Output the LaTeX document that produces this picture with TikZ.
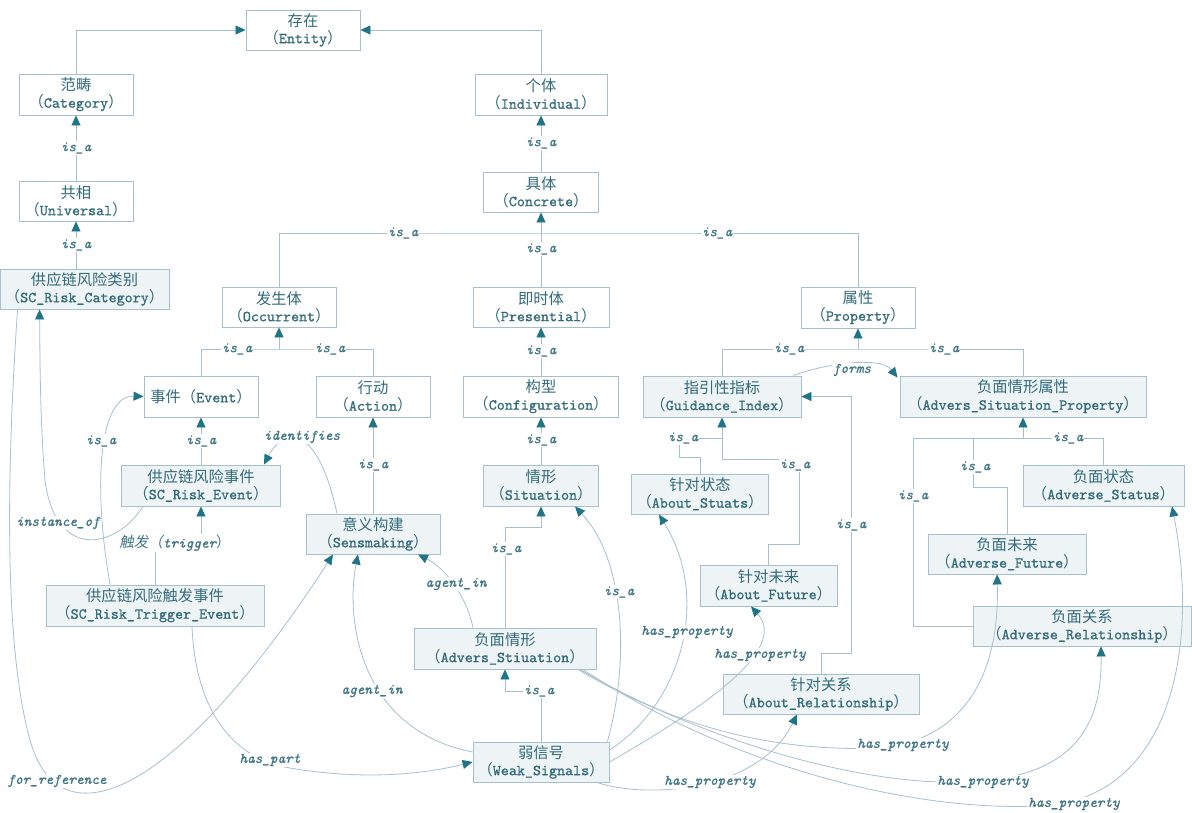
\documentclass[tikz,border=0pt]{standalone}
\usepackage{fontspec}
\setmonofont{lmmono10-regular.otf}[ItalicFont=lmmono10-italic.otf, FakeBold=0.9]
\newfontfamily\cjk{Noto Sans CJK SC}
\newfontfamily\cjki{Noto Sans CJK SC}[FakeSlant=0.2]
\usetikzlibrary{arrows.meta}
\definecolor{txt}{HTML}{336B7B}
\definecolor{labc}{HTML}{3F7585}
\definecolor{boxc}{HTML}{A7C0CC}
\definecolor{fillc}{HTML}{EEF3F5}
\definecolor{linec}{HTML}{A8C0CC}
\definecolor{arrc}{HTML}{1F7585}
\newcommand{\tw}[2]{{\cjk #1}\\{\cjk （}#2{\cjk ）}}
\tikzset{
  wbox/.style={draw=boxc, line width=0.9pt, fill=white, text=txt, align=center, inner sep=0pt,
    font=\fontsize{15.3}{17}\selectfont\ttfamily},
  gbox/.style={wbox, fill=fillc},
  link/.style={draw=linec, line width=0.8pt},
  arr/.style={link, -{Triangle[length=10pt,width=9pt,color=arrc]}},
  lab/.style={fill=white, text=labc, inner sep=1pt, font=\fontsize{14.5}{15}\selectfont\ttfamily\itshape}
}
\begin{document}
\begin{tikzpicture}[x=1pt,y=-1pt]
\fill[white] (0,0) rectangle (1192,812);
\useasboundingbox (0,0) rectangle (1192,812);

% nodes
\node[wbox, minimum width=114pt, minimum height=40pt] (ent) at (303,30) {\tw{存在}{Entity}};
\node[wbox, minimum width=114pt, minimum height=41pt] (cat) at (76,94.5) {\tw{范畴}{Category}};
\node[wbox, minimum width=114pt, minimum height=40pt] (uni) at (76,201) {\tw{共相}{Universal}};
\node[gbox, minimum width=169pt, minimum height=40pt] (scc) at (84.5,289) {\tw{供应链风险类别}{SC\_Risk\_Category}};
\node[wbox, minimum width=132pt, minimum height=41pt] (ind) at (541,94.5) {\tw{个体}{Individual}};
\node[wbox, minimum width=115pt, minimum height=40pt] (con) at (541,192) {\tw{具体}{Concrete}};
\node[wbox, minimum width=114pt, minimum height=40pt] (occ) at (279,307) {\tw{发生体}{Occurrent}};
\node[wbox, minimum width=136pt, minimum height=40pt] (pre) at (541,307) {\tw{即时体}{Presential}};
\node[wbox, minimum width=114pt, minimum height=41pt] (pro) at (858,307.5) {\tw{属性}{Property}};
\node[wbox, minimum width=114pt, minimum height=41pt] (evt) at (201,396.5) {{\cjk 事件（}Event{\cjk ）}};
\node[wbox, minimum width=114pt, minimum height=41pt] (act) at (373,396.5) {\tw{行动}{Action}};
\node[wbox, minimum width=155pt, minimum height=41pt] (cfg) at (541,396.5) {\tw{构型}{Configuration}};
\node[gbox, minimum width=158pt, minimum height=41pt] (gui) at (722,396.5) {\tw{指引性指标}{Guidance\_Index}};
\node[gbox, minimum width=246pt, minimum height=41pt] (asp) at (1023,396.5) {\tw{负面情形属性}{Advers\_Situation\_Property}};
\node[gbox, minimum width=159pt, minimum height=41pt] (sre) at (201,485.5) {\tw{供应链风险事件}{SC\_Risk\_Event}};
\node[gbox, minimum width=115pt, minimum height=41pt] (sit) at (541,485.5) {\tw{情形}{Situation}};
\node[gbox, minimum width=137pt, minimum height=40pt] (ast) at (700,494) {\tw{针对状态}{About\_Stuats}};
\node[gbox, minimum width=161pt, minimum height=41pt] (ads) at (1103.5,485.5) {\tw{负面状态}{Adverse\_Status}};
\node[gbox, minimum width=134pt, minimum height=40pt] (sen) at (373,534) {\tw{意义构建}{Sensmaking}};
\node[gbox, minimum width=158pt, minimum height=40pt] (adf) at (1007,554) {\tw{负面未来}{Adverse\_Future}};
\node[gbox, minimum width=137pt, minimum height=41pt] (afu) at (768.5,585.5) {\tw{针对未来}{About\_Future}};
\node[gbox, minimum width=218pt, minimum height=41pt] (trg) at (155,605.5) {\tw{供应链风险触发事件}{SC\_Risk\_Trigger\_Event}};
\node[gbox, minimum width=218pt, minimum height=40pt] (adr) at (1082,626) {\tw{负面关系}{Adverse\_Relationship}};
\node[gbox, minimum width=182pt, minimum height=41pt] (asi) at (505,648.5) {\tw{负面情形}{Advers\_Stiuation}};
\node[gbox, minimum width=196pt, minimum height=40pt] (arl) at (821,694) {\tw{针对关系}{About\_Relationship}};
\node[gbox, minimum width=136pt, minimum height=40pt] (wks) at (541,762) {\tw{弱信号}{Weak\_Signals}};

% hub coordinates
\coordinate (hc) at (541,233);
\coordinate (ho) at (279,349);
\coordinate (ht) at (201,543);
\coordinate (hs) at (541,527);
\coordinate (hw) at (541,691);
\coordinate (hp) at (858,349);
\coordinate (hg) at (722,459);
\coordinate (ha) at (1023,438);

% orthogonal is_a connectors
\draw[arr] (cat.north) |- (ent.west);
\draw[arr] (ind.north) |- (ent.east);
\draw[arr] (uni.north) -- (cat.south);
\draw[arr] (scc.north -| uni.north) -- (uni.south);
\draw[arr] (con.north) -- (ind.south);
\draw[link] (occ.north) |- (hc) -| (pro.north);
\draw[arr] (pre.north) -- (con.south);
\draw[link] (evt.north) |- (ho) -| (act.north);
\draw[arr] (ho) -- (occ.south);
\draw[arr] (cfg.north) -- (pre.south);
\draw[arr] (sit.north) -- (cfg.south);
\draw[arr] (sre.north) -- (evt.south);
\draw[arr] (trg.north) |- (ht) -- (sre.south);
\draw[arr] (sen.north) -- (act.south);
\draw[arr] (asi.north) |- (hs) -- (sit.south);
\draw[arr] (wks.north) -- (hw) -| (asi.south);
\draw[link] (gui.north) |- (hp) -| (asp.north);
\draw[arr] (hp) -- (pro.south);
\draw[link] (ast.north) |- (679,457) |- (722,438);
\draw[link] (afu.north) |- (799,544) |- (hg);
\draw[arr] (hg) -- (gui.south);
\draw[arr] (arl.north) |- (851,653) |- (gui.east);
\draw[link] (ads.north) |- (913,438) |- (adr.west);
\draw[link] (adf.north) |- (973,487) -- (973,438);
\draw[arr] (ha) -- (asp.south);

% curved connectors
\draw[arr] ([xshift=-36pt]sen.north) .. controls (318,425) and (285,425) .. ([xshift=-17pt]sre.north east);
\draw[arr] ([xshift=-45pt]trg.north) .. controls (92,480) and (100,395) .. (evt.west);
\draw[arr] ([xshift=22pt]sre.south west) .. controls (115,550) and (55,560) .. (45,480) .. controls (40,420) and (40,360) .. ([xshift=40pt]scc.south west);
\draw[arr] ([xshift=18pt]scc.south west) .. controls (8,450) and (2,640) .. (30,740) .. controls (40,776) and (60,795) .. (90,793) .. controls (165,788) and (265,660) .. ([xshift=-40pt]sen.south);
\draw[arr] ([xshift=37pt]trg.south) .. controls (196,720) and (240,760) .. (290,768) .. controls (360,780) and (420,775) .. (wks.west);
\draw[arr] ([yshift=10pt]wks.west) .. controls (360,730) and (345,620) .. ([xshift=-15pt]sen.south);
\draw[arr] ([xshift=-32pt]asi.north) .. controls (466,595) and (445,568) .. ([xshift=45pt]sen.south);
\draw[arr] ([xshift=-2pt]wks.north east) .. controls (630,660) and (625,560) .. ([xshift=34pt]sit.south);
\draw[arr] ([yshift=12pt]wks.east) .. controls (680,705) and (712,600) .. ([xshift=-41pt]ast.south);
\draw[arr] (wks.east) .. controls (700,710) and (790,650) .. ([xshift=-17.5pt]afu.south);
\draw[arr] ([xshift=56pt]wks.south) .. controls (650,800) and (760,790) .. ([xshift=-24pt]arl.south);
\draw[arr] ([xshift=73pt]asi.south) .. controls (680,730) and (780,752) .. (880,748) .. controls (960,740) and (1000,680) .. ([xshift=-10pt]adf.south);
\draw[arr] ([xshift=75pt]asi.south) .. controls (700,740) and (860,785) .. (960,782) .. controls (1080,780) and (1102,720) .. ([xshift=19pt]adr.south);
\draw[arr] ([xshift=78pt]asi.south) .. controls (720,760) and (900,812) .. (1040,806) .. controls (1170,800) and (1200,650) .. ([xshift=68.5pt]ads.south);
\draw[arr] ([xshift=-8pt]gui.north east) .. controls (820,365) and (880,355) .. ([xshift=-2pt,yshift=-2pt]asp.north west);

% labels
\foreach \p [count=\i] in {(76,148),(76,245),(541,143),(403,233),(717,233),(541,249),(237,349),(330,349),(541,351),(201,441),(373,465),(541,440),(101,441),(506,549),(619,592),(539,691),(789,349),(944,349),(683,438),(795,465),(851,525),(1068,438),(975,467),(913,496)}
  \node[lab] (isa\i) at \p {is\_a};
\node[lab] (lid) at (302,437) {identifies};
\node[lab] (lio) at (58,523) {instance\_of};
\node[lab] (ltr) at (175,543) {{\cjki 触发（}trigger{\cjk ）}};
\node[lab] (lfr) at (57,781) {for\_reference};
\node[lab] (lhp) at (270,760) {has\_part};
\node[lab] (lag1) at (372,691) {agent\_in};
\node[lab] (lag2) at (456,584) {agent\_in};
\node[lab] (lforms) at (852,370) {forms};
\node[lab] (hp1) at (687,632) {has\_property};
\node[lab] (hp2) at (760,655) {has\_property};
\node[lab] (hp3) at (710,782) {has\_property};
\node[lab] (hp4) at (903,745) {has\_property};
\node[lab] (hp5) at (983,782) {has\_property};
\node[lab] (hp6) at (1074,804) {has\_property};
\end{tikzpicture}
\end{document}
